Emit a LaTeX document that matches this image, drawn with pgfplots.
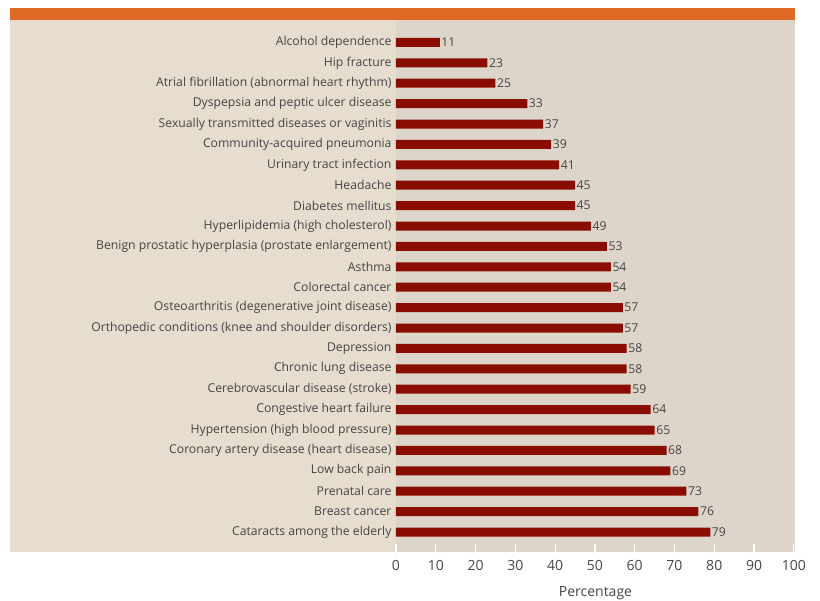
\documentclass[border=0pt]{standalone}
\usepackage{fontspec}
\setmainfont{Open Sans}
\usepackage{pgfplots}
\pgfplotsset{compat=1.18}
\definecolor{orangeband}{HTML}{E06A25}
\definecolor{panel}{HTML}{E6DDCF}
\definecolor{plotbg}{HTML}{DDD5C9}
\definecolor{barred}{HTML}{8A0D02}
\definecolor{txt}{HTML}{454545}
\begin{document}
\begin{tikzpicture}[x=1pt,y=1pt]
\useasboundingbox (0,0) rectangle (820,601);
\fill[orangeband] (10,581) rectangle (795,593);
\fill[panel] (10,49) rectangle (396,581);
\begin{axis}[
  at={(396pt,49pt)}, anchor=south west,
  scale only axis, width=399pt, height=532pt,
  xmin=0, xmax=100.3, ymin=-0.98, ymax=25.1,
  axis background/.style={fill=plotbg},
  axis line style={draw=none},
  clip=false,
  xbar, bar width=9pt, bar shift=0pt,
  ytick={0,...,24},
  yticklabels={Cataracts among the elderly, Breast cancer, Prenatal care, Low back pain, Coronary artery disease (heart disease), Hypertension (high blood pressure), Congestive heart failure, Cerebrovascular disease (stroke), Chronic lung disease, Depression, Orthopedic conditions (knee and shoulder disorders), Osteoarthritis (degenerative joint disease), Colorectal cancer, Asthma, Benign prostatic hyperplasia (prostate enlargement), Hyperlipidemia (high cholesterol), Diabetes mellitus, Headache, Urinary tract infection, Community-acquired pneumonia, Sexually transmitted diseases or vaginitis, Dyspepsia and peptic ulcer disease, Atrial fibrillation (abnormal heart rhythm), Hip fracture, Alcohol dependence},
  yticklabel style={font=\fontsize{12.2}{14}\selectfont, text=txt, xshift=-1pt},
  ytick style={draw=none},
  xtick={0,10,...,100},
  xtick pos=lower,
  tick align=inside,
  major tick length=8pt,
  every tick/.style={draw=white, line width=1.2pt},
  xtick style={draw=white, line width=1.2pt},
  xticklabel style={font=\fontsize{14}{16}\selectfont, text=txt, yshift=-5pt},
  /pgf/number format/assume math mode=true,
  xlabel={Percentage},
  xlabel style={font=\fontsize{14}{16}\selectfont, text=txt, at={(rel axis cs:0.5,0)}, anchor=center, yshift=-41pt},
  nodes near coords,
  nodes near coords style={font=\fontsize{12.2}{14}\selectfont, text=txt, anchor=west, inner sep=1.5pt},
]
\addplot[fill=barred, draw=none] table[x=v, y=i] {
i v
0 79
1 76
2 73
3 69
4 68
5 65
6 64
7 59
8 58
9 58
10 57
11 57
12 54
13 54
14 53
15 49
16 45
17 45
18 41
19 39
20 37
21 33
22 25
23 23
24 11
};
\end{axis}
\end{tikzpicture}
\end{document}
